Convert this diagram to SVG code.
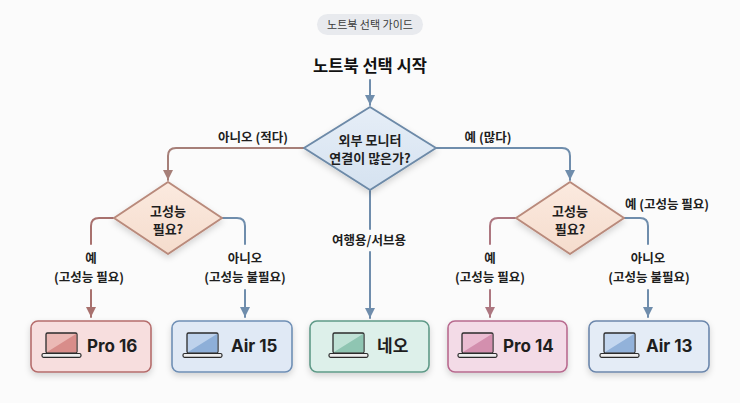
<svg xmlns="http://www.w3.org/2000/svg" width="740" height="403" viewBox="0 0 740 403">
<defs>
<filter id="sh" x="-20%" y="-20%" width="140%" height="160%">
<feDropShadow dx="0" dy="3" stdDeviation="3" flood-color="#000" flood-opacity="0.16"/>
</filter>
<linearGradient id="gMain" x1="0" y1="0" x2="0" y2="1"><stop offset="0" stop-color="#e6eef7"/><stop offset="1" stop-color="#d5e2f0"/></linearGradient>
<linearGradient id="gSub" x1="0" y1="0" x2="0" y2="1"><stop offset="0" stop-color="#fbeadf"/><stop offset="1" stop-color="#f5dccd"/></linearGradient>
<marker id="aBlue" viewBox="0 0 10 10" refX="10" refY="5" markerWidth="5" markerHeight="5" orient="auto" markerUnits="strokeWidth"><path d="M0,0 L10,5 L0,10 z" fill="#6f8dac"/></marker>
<marker id="aBrown" viewBox="0 0 10 10" refX="10" refY="5" markerWidth="5" markerHeight="5" orient="auto" markerUnits="strokeWidth"><path d="M0,0 L10,5 L0,10 z" fill="#a67f78"/></marker>
<marker id="aRed" viewBox="0 0 10 10" refX="10" refY="5" markerWidth="5" markerHeight="5" orient="auto" markerUnits="strokeWidth"><path d="M0,0 L10,5 L0,10 z" fill="#a8716e"/></marker>
<marker id="aMauve" viewBox="0 0 10 10" refX="10" refY="5" markerWidth="5" markerHeight="5" orient="auto" markerUnits="strokeWidth"><path d="M0,0 L10,5 L0,10 z" fill="#ad7780"/></marker>
</defs>
<style>
text{font-family:"Noto Sans CJK KR","Inter",sans-serif;fill:#1e1e1e}
.lbl{font-size:12.5px;font-weight:700;text-anchor:middle}
.dtxt{font-size:13px;font-weight:700;text-anchor:middle}
.btxt{font-family:"Inter","Noto Sans CJK KR",sans-serif;font-size:17px;font-weight:700}
.c{fill:none;stroke-width:2;stroke-linecap:round;stroke-linejoin:round}
.cb{stroke:#6f8dac}.cbr{stroke:#a67f78}.cr{stroke:#a8716e}.cm{stroke:#ad7780}
.box{stroke-width:1.6}
.scr{stroke:#2b2b2b;stroke-width:1.3}
.base{fill:#eeeeee;stroke:#2b2b2b;stroke-width:1.2}
</style>
<rect width="740" height="403" fill="#fbfbfb"/>

<g id="title">
<rect x="317" y="14" width="106" height="21" rx="10.5" fill="#e8eaee"/>
<text x="370" y="28.5" style="font-size:11px;text-anchor:middle;fill:#3a3a3a">노트북 선택 가이드</text>
</g>

<g id="start">
<text x="370" y="72" style="font-size:16.5px;font-weight:700;text-anchor:middle;fill:#111">노트북 선택 시작</text>
</g>

<g id="connectors">
<path class="c cb" d="M370,80 V105" marker-end="url(#aBlue)"/>
<path class="c cbr" d="M304,148 H176 Q168,148 168,156 V180" marker-end="url(#aBrown)"/>
<path class="c cb" d="M436,148 H562 Q570,148 570,156 V180" marker-end="url(#aBlue)"/>
<path class="c cb" d="M370,190 V229"/>
<path class="c cb" d="M370,252 V318" marker-end="url(#aBlue)"/>
<path class="c cr" d="M113,218 H99 Q91,218 91,226 V244"/>
<path class="c cr" d="M91,290 V317" marker-end="url(#aRed)"/>
<path class="c cb" d="M222,218 H237 Q245,218 245,226 V244"/>
<path class="c cb" d="M245,290 V317" marker-end="url(#aBlue)"/>
<path class="c cm" d="M515,218 H498 Q490,218 490,226 V244"/>
<path class="c cm" d="M490,290 V317" marker-end="url(#aMauve)"/>
<path class="c cb" d="M624,218 H640 Q648,218 648,226 V244"/>
<path class="c cb" d="M648,290 V317" marker-end="url(#aBlue)"/>
<text class="lbl" x="253" y="142">아니오 (적다)</text>
<text class="lbl" x="488" y="142">예 (많다)</text>
<text class="lbl" x="369" y="245">여행용/서브용</text>
<text class="lbl" x="91" y="263">예</text>
<text class="lbl" x="89" y="282">(고성능 필요)</text>
<text class="lbl" x="245" y="263">아니오</text>
<text class="lbl" x="245" y="282">(고성능 불필요)</text>
<text class="lbl" x="490" y="263">예</text>
<text class="lbl" x="490" y="282">(고성능 필요)</text>
<text class="lbl" x="648" y="263">아니오</text>
<text class="lbl" x="649" y="282">(고성능 불필요)</text>
<text class="lbl" x="667" y="209">예 (고성능 필요)</text>
</g>

<g id="q-monitor">
<path d="M370,107 L436,148 L370,190 L304,148 Z" fill="url(#gMain)" stroke="#6d8aa8" stroke-width="2" stroke-linejoin="round" filter="url(#sh)"/>
<text class="dtxt" x="370" y="145">외부 모니터</text>
<text class="dtxt" x="370" y="163">연결이 많은가?</text>
</g>

<g id="q-perf-left">
<path d="M168,182 L222,218 L168,254 L114,218 Z" fill="url(#gSub)" stroke="#b98a7b" stroke-width="2" stroke-linejoin="round" filter="url(#sh)"/>
<text class="dtxt" x="168" y="216">고성능</text>
<text class="dtxt" x="168" y="234">필요?</text>
</g>

<g id="q-perf-right">
<path d="M570,182 L624,218 L570,254 L516,218 Z" fill="url(#gSub)" stroke="#b98a7b" stroke-width="2" stroke-linejoin="round" filter="url(#sh)"/>
<text class="dtxt" x="570" y="216">고성능</text>
<text class="dtxt" x="570" y="234">필요?</text>
</g>

<g id="pro16">
<rect class="box" x="31" y="321" width="120" height="51" rx="7" fill="#f7dede" stroke="#b56d6c" filter="url(#sh)"/>
<rect class="scr" x="46" y="333" width="31" height="20" rx="1.5" fill="#ebb9b5"/>
<path d="M76.3,333.7 L76.3,352.3 L46.7,352.3 Z" fill="#d88d8a"/>
<rect class="base" x="42" y="353.5" width="39" height="3.8" rx="1.5" fill="#e9c6c3"/>
<text class="btxt" x="87" y="352">Pro 16</text>
</g>

<g id="air15">
<rect class="box" x="172" y="321" width="120" height="51" rx="7" fill="#e0e9f5" stroke="#6f8fb5" filter="url(#sh)"/>
<rect class="scr" x="187" y="333" width="31" height="20" rx="1.5" fill="#bed2ec"/>
<path d="M217.3,333.7 L217.3,352.3 L187.7,352.3 Z" fill="#8eafd8"/>
<rect class="base" x="183" y="353.5" width="39" height="3.8" rx="1.5" fill="#d3e0f0"/>
<text class="btxt" x="231" y="352">Air 15</text>
</g>

<g id="neo">
<rect class="box" x="310" y="321" width="119" height="51" rx="7" fill="#ddf0ea" stroke="#5f9a88" filter="url(#sh)"/>
<rect class="scr" x="333" y="333" width="31" height="20" rx="1.5" fill="#c0e2d6"/>
<path d="M363.3,333.7 L363.3,352.3 L333.7,352.3 Z" fill="#8fc5b2"/>
<rect class="base" x="329" y="353.5" width="39" height="3.8" rx="1.5" fill="#d3ebe2"/>
<text class="btxt" x="377" y="352" style="font-family:'Noto Sans CJK KR',sans-serif">네오</text>
</g>

<g id="pro14">
<rect class="box" x="448" y="321" width="119" height="51" rx="7" fill="#f3dbe7" stroke="#b86b8f" filter="url(#sh)"/>
<rect class="scr" x="462" y="333" width="31" height="20" rx="1.5" fill="#ebbdd2"/>
<path d="M492.3,333.7 L492.3,352.3 L462.7,352.3 Z" fill="#d38fae"/>
<rect class="base" x="458" y="353.5" width="39" height="3.8" rx="1.5" fill="#ecc9d8"/>
<text class="btxt" x="503" y="352">Pro 14</text>
</g>

<g id="air13">
<rect class="box" x="589" y="321" width="120" height="51" rx="7" fill="#e4ecf6" stroke="#6c87ac" filter="url(#sh)"/>
<rect class="scr" x="604" y="333" width="31" height="20" rx="1.5" fill="#c4d7ef"/>
<path d="M634.3,333.7 L634.3,352.3 L604.7,352.3 Z" fill="#92b2da"/>
<rect class="base" x="600" y="353.5" width="39" height="3.8" rx="1.5" fill="#d6e2f1"/>
<text class="btxt" x="646" y="352">Air 13</text>
</g>
</svg>
